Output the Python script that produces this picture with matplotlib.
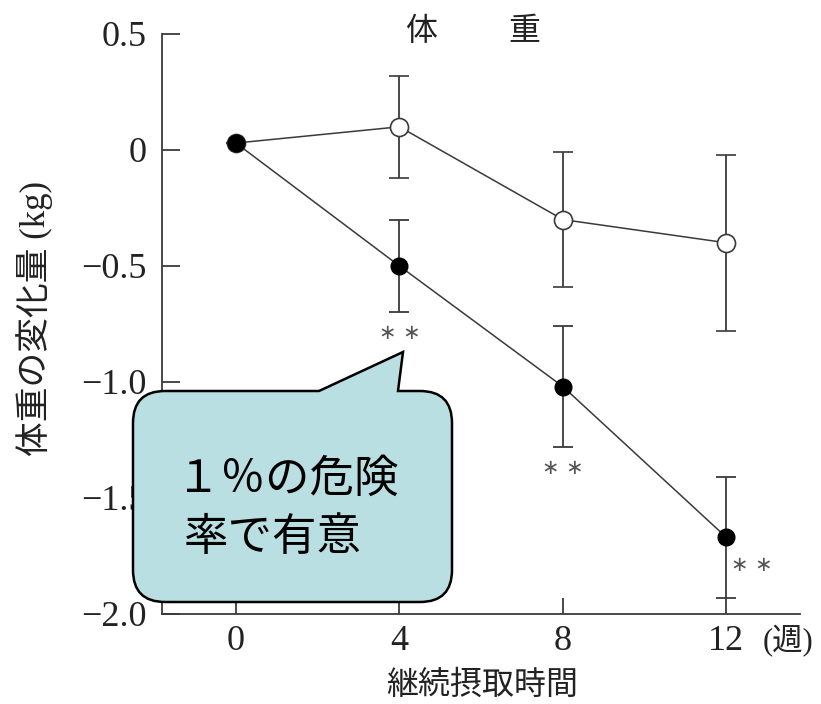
import matplotlib
matplotlib.use("Agg")
import matplotlib.pyplot as plt
from matplotlib.path import Path
from matplotlib.patches import PathPatch
from matplotlib.transforms import Affine2D

# Data: weekly change of body weight (kg), mean and SD
weeks = [0, 4, 8, 12]
control_mean = [0.03, 0.10, -0.30, -0.40]
control_sd = [0.0, 0.22, 0.29, 0.38]
treat_mean = [0.03, -0.50, -1.02, -1.67]
treat_sd = [0.0, 0.20, 0.26, 0.26]
ytick_vals = [0.5, 0.0, -0.5, -1.0, -1.5, -2.0]
ytick_labels = ["0.5", "0", "\u22120.5", "\u22121.0", "\u22121.5", "\u22122.0"]
xtick_labels = ["0", "4", "8", "12"]
sig_weeks = [4, 8, 12]

W, H = 821, 704
fig = plt.figure(figsize=(W / 100, H / 100), dpi=100)
fig.patch.set_facecolor("white")
ax = fig.add_axes([162 / W, 1 - 614 / H, (800 - 162) / W, (614 - 34) / H])

jp = ["Noto Sans CJK JP", "DejaVu Sans"]
mixed = ["Liberation Serif", "Noto Sans CJK JP"]
serif = "Liberation Serif"
ink = "#3a3a3a"
txt = "#222222"

ax.errorbar(weeks, control_mean, yerr=control_sd, color=ink, lw=1.1,
            elinewidth=1.3, capsize=7, capthick=1.3, marker="o", ms=13,
            mfc="white", mec=ink, mew=1.2, zorder=3)
ax.errorbar(weeks, treat_mean, yerr=treat_sd, color=ink, lw=1.1,
            elinewidth=1.3, capsize=7, capthick=1.3, marker="o", ms=12,
            mfc="black", mec="black", zorder=4)

# significance marks (**)
for w in sig_weeks:
    i = weeks.index(w)
    if w == 12:
        x, y = w + 0.62, treat_mean[i] - 0.12
    else:
        x, y = w, treat_mean[i] - treat_sd[i] - 0.09
    ax.text(x, y, "\u2217 \u2217", ha="center", va="center", fontsize=15,
            family="DejaVu Sans", color="#555555")

ax.set_xlim(-1.81, 13.8)
ax.set_ylim(-2.0, 0.5)
ax.set_xticks(weeks)
ax.set_xticklabels(xtick_labels)
ax.set_yticks(ytick_vals)
ax.set_yticklabels(ytick_labels)
for s in ["top", "right"]:
    ax.spines[s].set_visible(False)
for s in ["left", "bottom"]:
    ax.spines[s].set_color(ink)
    ax.spines[s].set_linewidth(1.3)
ax.tick_params(axis="y", direction="in", length=13, width=1.3, color=ink,
               pad=11, labelsize=26)
ax.tick_params(axis="x", direction="in", length=11.5, width=1.3, color=ink,
               pad=8, labelsize=26)
for lab in ax.get_xticklabels() + ax.get_yticklabels():
    lab.set_family(serif)
    lab.set_color(txt)

# titles and axis labels
px = Affine2D().scale(1, -1).translate(0, H)
fig.text(421, 31, "体", transform=px, ha="center", va="center", fontsize=23,
         family=jp, color=txt)
fig.text(524, 31, "重", transform=px, ha="center", va="center", fontsize=23,
         family=jp, color=txt)
fig.text(788, 641, "(週)", transform=px, ha="center", va="center", fontsize=22,
         family=mixed, color=txt)
fig.text(482, 685, "継続摂取時間", transform=px, ha="center", va="center",
         fontsize=23, family=jp, color=txt)
fig.text(35, 318, "体重の変化量 (kg)", transform=px, ha="center", va="center",
         rotation=90, fontsize=25, family=mixed, color=txt)

# speech-bubble callout
L, R, T, B, r = 133, 452, 391, 602, 32
verts = [(319, T), (403, 352), (398, T), (R - r, T), (R, T), (R, T + r),
         (R, B - r), (R, B), (R - r, B), (L + r, B), (L, B), (L, B - r),
         (L, T + r), (L, T), (L + r, T), (319, T), (319, T)]
codes = [Path.MOVETO, Path.LINETO, Path.LINETO, Path.LINETO, Path.CURVE3,
         Path.CURVE3, Path.LINETO, Path.CURVE3, Path.CURVE3, Path.LINETO,
         Path.CURVE3, Path.CURVE3, Path.LINETO, Path.CURVE3, Path.CURVE3,
         Path.LINETO, Path.CLOSEPOLY]
bubble = PathPatch(Path(verts, codes), transform=px, facecolor="#b9dfe2",
                   edgecolor="black", lw=1.8, zorder=10)
fig.add_artist(bubble)
fig.text(176, 479, "１％の危険", transform=px, ha="left", va="center",
         fontsize=32, family=jp, color="black", zorder=11)
fig.text(184, 537, "率で有意", transform=px, ha="left", va="center",
         fontsize=32, family=jp, color="black", zorder=11)

fig.savefig("out.png", dpi=100, facecolor="white")
